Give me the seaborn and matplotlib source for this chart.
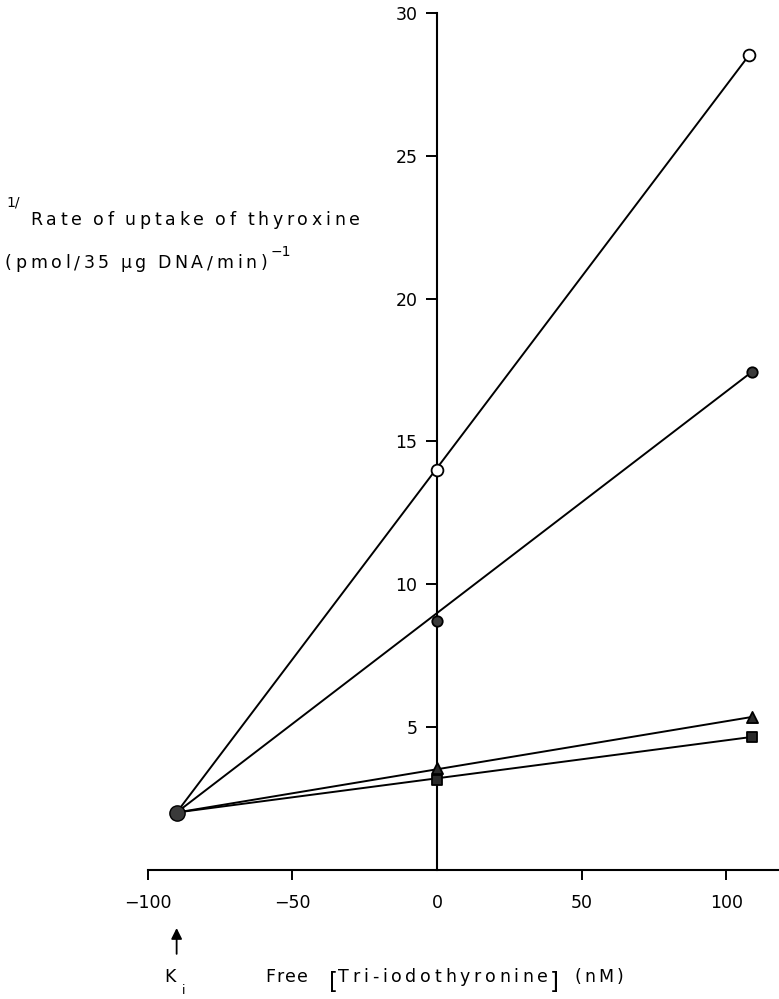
import matplotlib
matplotlib.use("Agg")
import matplotlib.pyplot as plt
import seaborn as sns
import pandas as pd

# Dixon plot: 1/rate of thyroxine uptake vs free tri-iodothyronine (nM)
ki_x = -90.0
ki_y = 2.0

open_x = [0, 108]
open_y = [14.0, 28.55]

filled_x = [0, 109]
filled_y = [8.7, 17.45]

tri_x = [0, 109]
tri_y = [3.55, 5.35]

sq_x = [0, 109]
sq_y = [3.15, 4.65]

x_ticks = [-100, -50, 0, 50, 100]
y_ticks = [5, 10, 15, 20, 25, 30]

sns.set_style("white")
plt.rcParams["font.family"] = ["DejaVu Sans"]
plt.rcParams["text.color"] = "black"

W, H = 779, 999
fig = plt.figure(figsize=(W / 100, H / 100), dpi=100)
x0_px, y0_px, ytop_px = 147.7, 869.6, 13.3
ax = fig.add_axes([x0_px / W, (H - y0_px) / H, 1 - x0_px / W, (y0_px - ytop_px) / H])

series = [
    ("open", open_x, open_y, "o", "white", 8.5),
    ("filled", filled_x, filled_y, "o", "#3a3a3a", 7.5),
    ("tri", tri_x, tri_y, "^", "#2a2a2a", 8.0),
    ("sq", sq_x, sq_y, "s", "#2a2a2a", 6.5),
]

# fitted lines run from the common intersection to the last point of each set
for name, xs, ys, mk, fc, ms in series:
    line_df = pd.DataFrame({"x": [ki_x, xs[-1]], "y": [ki_y, ys[-1]]})
    sns.lineplot(data=line_df, x="x", y="y", color="black", lw=1.4, ax=ax,
                 sort=False, clip_on=False)

for name, xs, ys, mk, fc, ms in series:
    pts = pd.DataFrame({"x": xs, "y": ys})
    sns.scatterplot(data=pts, x="x", y="y", marker=mk, s=(ms ** 2),
                    facecolor=fc, edgecolor="black", linewidth=1.3, ax=ax,
                    zorder=5, clip_on=False)

# common intersection point (-Ki)
sns.scatterplot(x=[ki_x], y=[ki_y], marker="o", s=11 ** 2, facecolor="#3a3a3a",
                edgecolor="black", linewidth=1.0, ax=ax, zorder=6, clip_on=False)

ax.set_xlim(-100, -100 + (W - x0_px) / 2.893)
ax.set_ylim(0, 30)

for s in ("top", "right"):
    ax.spines[s].set_visible(False)
ax.spines["left"].set_position(("data", 0))
for s in ("left", "bottom"):
    ax.spines[s].set_linewidth(1.5)
    ax.spines[s].set_color("black")

ax.set_xticks(x_ticks)
ax.set_xticklabels([str(v).replace("-", "\u2212") for v in x_ticks])
ax.set_yticks(y_ticks)
ax.set_yticklabels([str(v) for v in y_ticks])
ax.tick_params(axis="x", direction="out", length=7.5, width=1.4, pad=10,
               labelsize=12.5, colors="black", bottom=True)
ax.tick_params(axis="y", direction="out", length=8, width=1.4, pad=6,
               labelsize=12.5, colors="black", left=True)
ax.xaxis.get_major_ticks()[2].tick1line.set_visible(False)
ax.set_xlabel("")
ax.set_ylabel("")
ax.grid(False)

# Ki arrow under the axis
ax.annotate("", xy=(ki_x, -1.95), xytext=(ki_x, -3.05), xycoords="data",
            arrowprops=dict(arrowstyle="-|>", mutation_scale=16, color="black", lw=1.3),
            annotation_clip=False)


def fx(px):
    return px / W


def fy(py):
    return 1 - py / H


renderer = fig.canvas.get_renderer()


def spaced_text(x_start, x_end, baseline, s, size):
    """Write s letter by letter, spread evenly between two pixel columns."""
    widths = []
    for ch in s:
        if ch == " ":
            widths.append(size * 0.22 * 100 / 72)
        else:
            t = fig.text(0, 0, ch, fontsize=size)
            widths.append(t.get_window_extent(renderer).width)
            t.remove()
    gap = ((x_end - x_start) - sum(widths)) / max(len(s) - 1, 1)
    x = x_start
    for ch, w in zip(s, widths):
        if ch != " ":
            fig.text(fx(x), fy(baseline), ch, fontsize=size, ha="left",
                     va="baseline", color="black")
        x += w + gap


# y-axis title
fig.text(fx(6), fy(203), "1/", fontsize=10, ha="left", va="center")
spaced_text(30, 360, 225, "Rate of uptake of thyroxine", 12.5)
spaced_text(5, 267, 268, "(pmol/35 \u00b5g DNA/min)", 12.5)
fig.text(fx(271), fy(252), "\u2212" + "1", fontsize=10, ha="left", va="center")

# x-axis title
fig.text(fx(164), fy(982), "K", fontsize=12.5, ha="left", va="baseline")
fig.text(fx(182), fy(991), "i", fontsize=9, ha="left", va="center")
spaced_text(265, 308, 982, "Free", 12.5)
fig.text(fx(329), fy(988.5), "[", fontsize=16.5, ha="left", va="baseline")
spaced_text(338, 548, 982, "Tri-iodothyronine", 12.5)
fig.text(fx(550), fy(988.5), "]", fontsize=16.5, ha="left", va="baseline")
spaced_text(575, 623, 982, "(nM)", 12.5)

fig.savefig("out.png", dpi=100, facecolor="white")
